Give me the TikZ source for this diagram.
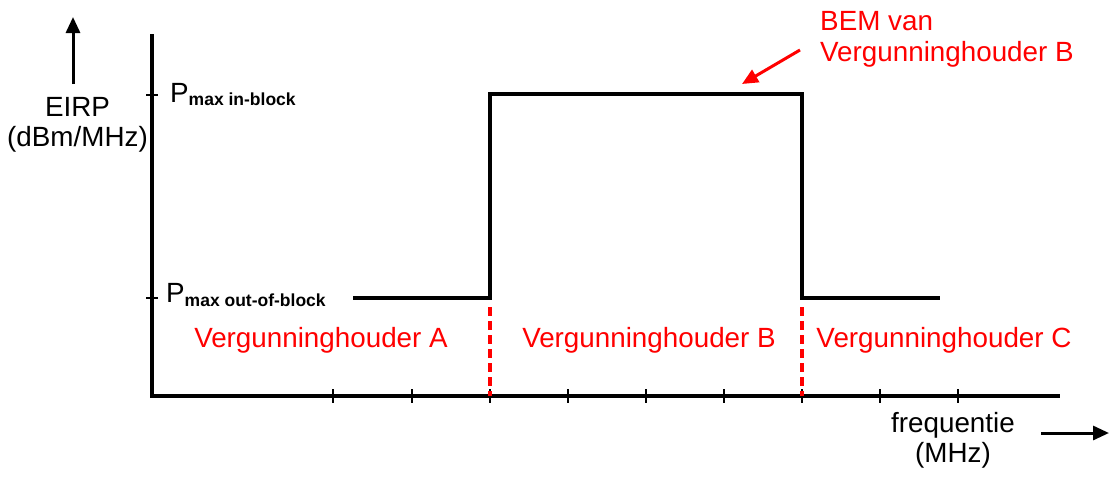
\documentclass[tikz,border=0pt]{standalone}
\usepackage{fontspec}
\setmainfont{Liberation Sans}
\usetikzlibrary{arrows.meta}
\definecolor{bemred}{RGB}{255,0,0}
\tikzset{
  axisline/.style={line width=3.2pt, black},
  sigline/.style={line width=3.2pt, black, line join=miter},
  tickline/.style={line width=2.4pt, black},
  reddash/.style={line width=3.2pt, bemred, dash pattern=on 9pt off 5pt},
  bigtxt/.style={font=\fontsize{27.8}{31}\selectfont, inner sep=0pt},
  redtxt/.style={bigtxt, text=bemred},
  arrowtip/.style={-{Triangle[length=16pt,width=14pt]}},
}
\begin{document}
\begin{tikzpicture}[x=1pt,y=-1pt]
\useasboundingbox (0,0) rectangle (1109,477);
% axes
\coordinate (ytop) at (152,34);
\coordinate (orig) at (152,396);
\coordinate (xend) at (1060,396);
\draw[axisline] (ytop) -- (orig) -- (xend);
% y ticks
\foreach \y/\n in {95/yin,298/yout}{
  \coordinate (\n) at (152,\y);
  \draw[tickline] ([xshift=-6pt]\n) -- ([xshift=6pt]\n);
}
% x ticks
\foreach \x in {333,412,490,568,646,724,802,880,958}{
  \draw[tickline] (\x,389) -- (\x,403);
}
% signal
\coordinate (s0) at (353,298);
\coordinate (s1) at (490,298);
\coordinate (s2) at (490,94);
\coordinate (s3) at (802,94);
\coordinate (s4) at (802,298);
\coordinate (s5) at (940,298);
\draw[sigline] (s0) -- (s1) -- (s2) -- (s3) -- (s4) -- (s5);
% red dashed separators
\coordinate (d1t) at (490,307);
\coordinate (d1b) at (490,396);
\coordinate (d2t) at (802,307);
\coordinate (d2b) at (802,396);
\draw[reddash] (d1t) -- (d1b);
\draw[reddash] (d2t) -- (d2b);
% y label with arrow
\coordinate (ya0) at (73,84);
\coordinate (ya1) at (73,17);
\draw[line width=3pt, arrowtip] (ya0) -- (ya1);
\node[bigtxt, anchor=base] (eirp) at (77.5,116) {EIRP};
\node[bigtxt, anchor=base] (unit) at (77.5,146.5) {(dBm/MHz)};
% P labels
\node[bigtxt, anchor=base west] (pin) at (170,102)
  {P\raisebox{-3.5pt}{\fontsize{17.5}{20}\selectfont\bfseries max in-block}};
\node[bigtxt, anchor=base west] (pout) at (166,302)
  {P\raisebox{-4.5pt}{\fontsize{17.5}{20}\selectfont\bfseries max out-of-block}};
% x label with arrow
\node[bigtxt, anchor=base] (freq) at (953,432) {frequentie};
\node[bigtxt, anchor=base] (mhz) at (953,462) {(MHz)};
\coordinate (fa0) at (1041,433);
\coordinate (fa1) at (1109,433);
\draw[line width=3pt, arrowtip] (fa0) -- (fa1);
% licence holders
\node[redtxt, anchor=base] (va) at (321,347) {Vergunninghouder A};
\node[redtxt, anchor=base] (vb) at (649,347) {Vergunninghouder B};
\node[redtxt, anchor=base] (vc) at (944,347) {Vergunninghouder C};
% BEM annotation
\node[redtxt, anchor=base west] (bem1) at (820,30) {BEM van};
\node[redtxt, anchor=base west] (bem2) at (820,61.5) {Vergunninghouder B};
\coordinate (ra0) at (800,50);
\coordinate (ra1) at (742,84);
\draw[line width=3pt, bemred, arrowtip] (ra0) -- (ra1);
\end{tikzpicture}
\end{document}
